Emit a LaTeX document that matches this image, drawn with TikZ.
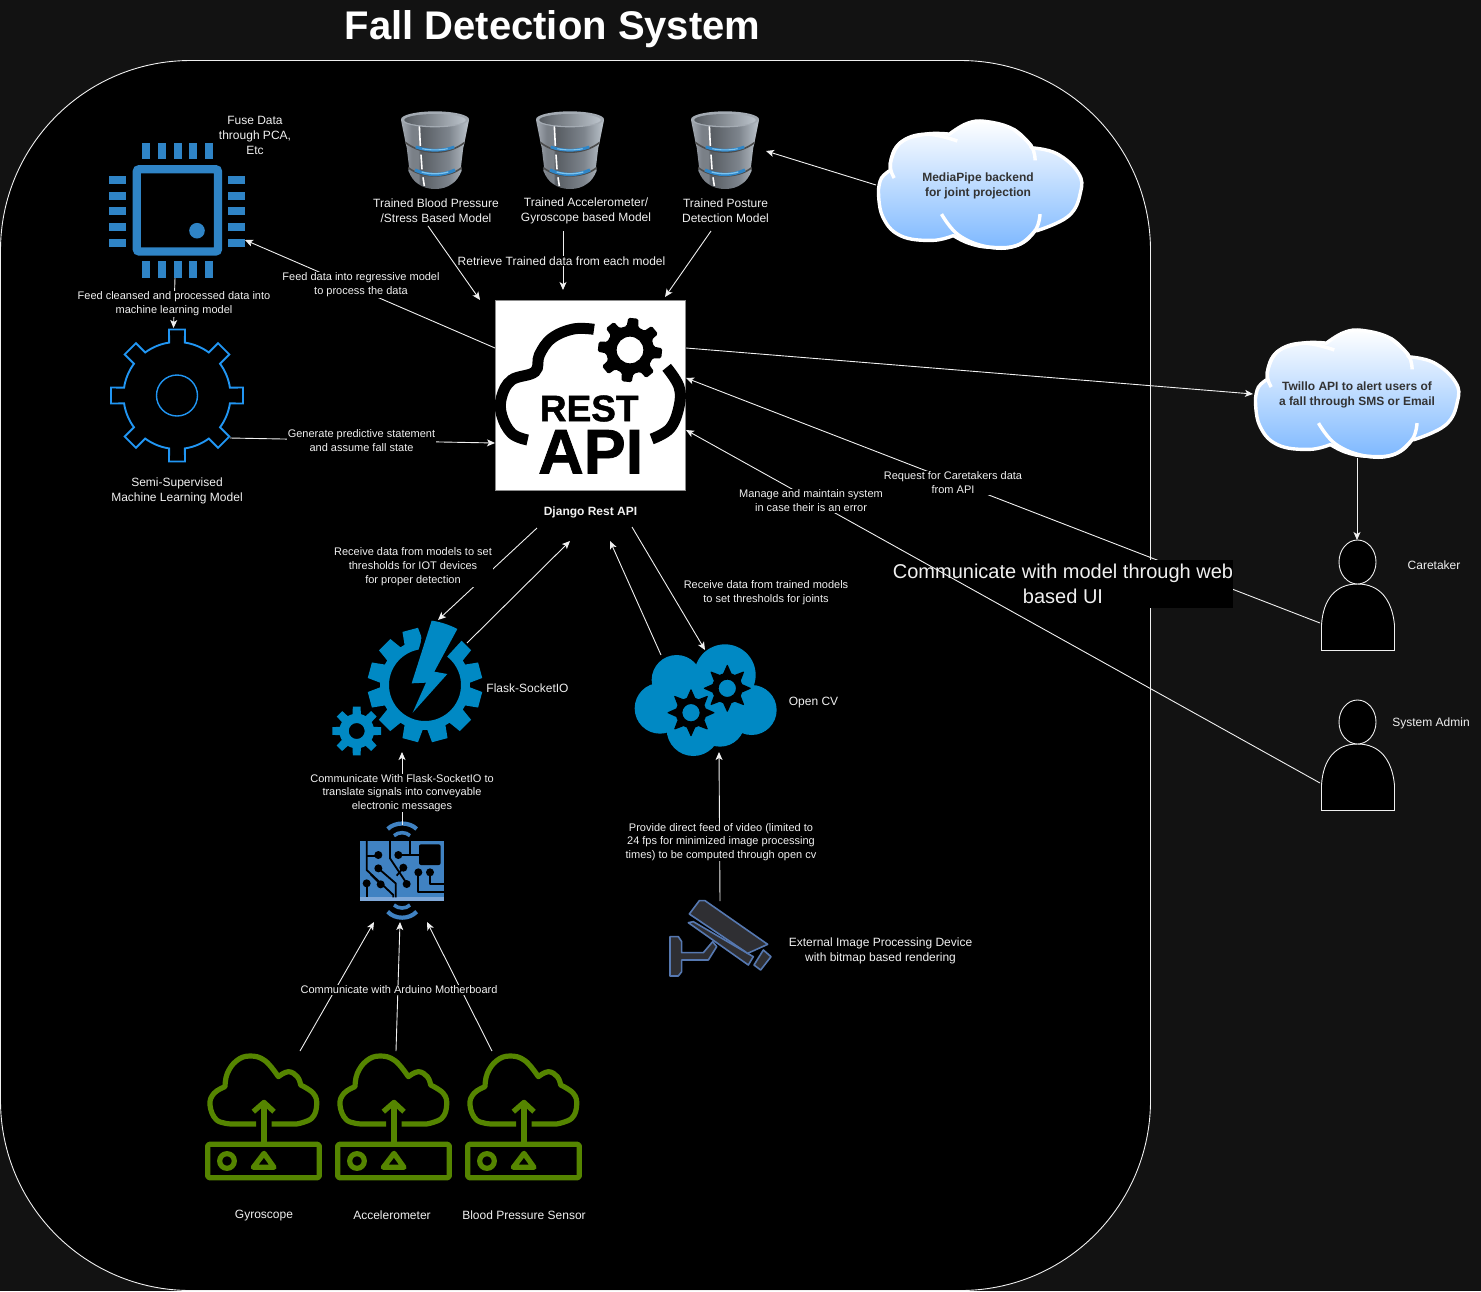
\documentclass[tikz,border=0pt]{standalone}
\usepackage{fontspec}
\setmainfont{Liberation Sans}
\newfontfamily\heavyf[BoldFeatures={FakeBold=1.2}]{Liberation Sans}
\usetikzlibrary{arrows.meta}
\definecolor{pagebg}{HTML}{121212}
\definecolor{ink}{HTML}{F0F0F0}
\definecolor{chipblue}{HTML}{2F84C6}
\definecolor{gearblue}{HTML}{2196F3}
\definecolor{azure}{HTML}{0089C4}
\definecolor{boardblue}{HTML}{4082C2}
\definecolor{boardlight}{HTML}{7FA8D8}
\definecolor{sensorgreen}{HTML}{558500}
\definecolor{cloudblue}{HTML}{7DB8FF}
\definecolor{camedge}{HTML}{5678B0}
\definecolor{camfill}{HTML}{2F2F33}
\definecolor{bandblue}{HTML}{2F86C8}
\definecolor{bandglow}{HTML}{7CC4F0}
\definecolor{steelA}{HTML}{A4ABB3}
\definecolor{steelB}{HTML}{7A8087}
\definecolor{steelC}{HTML}{565B61}
\definecolor{steelD}{HTML}{7D848C}
\definecolor{steelE}{HTML}{BCC4CC}
\pgfdeclarehorizontalshading{barrelbody}{100bp}{color(0bp)=(steelA);color(25bp)=(steelA);color(33bp)=(steelB);color(38bp)=(steelB);color(39bp)=(steelC);color(60bp)=(steelD);color(75bp)=(steelE);color(100bp)=(steelE)}
\tikzset{
  conn/.style={draw=ink,line width=.9pt,-{Stealth[length=8pt,width=7pt,inset=2pt]}},
  lab/.style={text=ink,align=center,inner sep=1pt,fill=black,font=\fontsize{11}{14}\selectfont},
  txt/.style={text=ink,align=center,inner sep=0pt,font=\fontsize{12}{15}\selectfont},
  cloudtxt/.style={text=black!80,align=center,inner sep=0pt,font=\bfseries\fontsize{12}{15}\selectfont},
  zoomed/.style={x=.33333pt,y=-.33333pt},
  zoomup/.style={x=.33333pt,y=.33333pt},
}
% gear: style, teeth, root, outer, base half angle, top half angle, rotation, hole
\newcommand\gearfill[8]{%
  \fill[#1,even odd rule] (#7-#5:#3)
    \foreach \k [evaluate=\k as \a using (\k-1)*360/#2+#7] in {1,...,#2} {
      -- (\a-#6:#4) -- (\a+#6:#4) -- (\a+#5:#3) -- (\a+180/#2:#3) -- (\a+360/#2-#5:#3)
    } -- cycle (0,0) circle[radius=#8];}
\newcommand\barrelicon[1]{%
\begin{scope}[shift={(#1,100)},zoomed]
  \path[shading=barrelbody] (-102,60) -- (-90,120) -- (-87,135) -- (-85,142) -- (-78,200) -- (-80,212)
     .. controls (-72,232) and (-62,245) .. (-50,252) .. controls (-25,272) and (25,272) .. (50,252)
     .. controls (62,245) and (72,232) .. (80,212) -- (78,200) -- (85,142) -- (87,135) -- (90,120) -- (102,60) -- cycle;
  \draw[black!70,line width=1.6pt] (-88,128) .. controls (-40,166) and (40,166) .. (88,128);
  \draw[black!70,line width=1.6pt] (-80,203) .. controls (-40,236) and (40,236) .. (80,203);
  \draw[bandblue,line width=2.8pt] (-58,141) .. controls (-20,154) and (20,154) .. (58,141);
  \draw[bandglow,line width=1.1pt] (-38,146) .. controls (-15,151) and (15,151) .. (38,146);
  \draw[bandblue,line width=3.2pt] (-60,210) .. controls (-20,228) and (20,228) .. (60,210);
  \draw[bandglow,line width=1.3pt] (-40,216) .. controls (-15,223) and (15,223) .. (40,216);
  \draw[white,line width=1.6pt] (-47,78) -- (-44,138);
  \draw[white,line width=1.6pt] (-42,164) -- (-39,208);
  \draw[white,line width=1.6pt] (-36,232) -- (-32,258);
  \fill[steelA] (0,58) ellipse[x radius=102,y radius=24];
  \path[left color=steelC,right color=steelE] (0,60) ellipse[x radius=92,y radius=18];
\end{scope}}
\newcommand\cloudicon[2]{%
\begin{scope}[shift={(#1,#2)},xscale=.985,yscale=.975,shift={(1.5,1.5)}]
  \path[top color=white,bottom color=cloudblue,draw=white,line width=3.4pt,line join=round]
    plot[smooth,tension=.7] coordinates {(0,70)(3,58)(12,50)}
    -- plot[smooth,tension=.7] coordinates {(12,43)(22,22)(48,13)(72,13)}
    -- plot[smooth,tension=.7] coordinates {(72,13)(90,2)(109,0)(137,8)(155,25)}
    -- plot[smooth,tension=.7] coordinates {(155,27)(181,33)(203,53)(205,73)(193,97)(161,112)}
    -- plot[smooth,tension=.7] coordinates {(159,112)(141,127)(113,129)(92,125)(76,117)}
    -- plot[smooth,tension=.7] coordinates {(76,117)(54,122)(22,117)(4,97)(0,70)} -- cycle;
  \draw[white,line width=3.4pt] plot[smooth,tension=.7] coordinates {(16,58)(12,43)(22,22)(48,13)(80,20)};
  \draw[white,line width=3.4pt] plot[smooth,tension=.7] coordinates {(137,8)(155,25)(159,40)};
  \draw[white,line width=3.4pt] plot[smooth,tension=.7] coordinates {(64,95)(82,117)(113,129)(141,127)(159,112)(164,95)};
\end{scope}}
\newcommand\sensoricon[1]{%
\begin{scope}[shift={(#1,1040)},zoomed,draw=sensorgreen,line width=5.2pt,line join=round]
  \draw (198,252) -- (125,252) -- plot[smooth,tension=.7] coordinates {(125,252)(80,240)(60,195)(72,160)(105,140)}
    -- plot[smooth,tension=.7] coordinates {(105,140)(112,100)(140,62)(180,48)(225,62)(265,110)}
    -- plot[smooth,tension=.7] coordinates {(265,110)(295,95)(322,110)(332,135)}
    -- plot[smooth,tension=.7] coordinates {(332,135)(370,160)(380,195)(365,235)(320,252)} -- (245,252);
  \draw (222,310) -- (222,187);
  \draw[miter limit=4] (190,215) -- (222,187) -- (252,215);
  \draw[rounded corners=1.5pt] (53,313) rectangle (388,413);
  \draw (111,363) circle[radius=22];
  \draw (190,382) -- (222,340) -- (252,382) -- cycle;
\end{scope}}
\newcommand\personicon[1]{%
\begin{scope}[shift={(0,#1)}]
  \draw[draw=ink,fill=black,line width=.9pt] (1321.5,650.5) -- (1321.5,625) .. controls (1323,600) and (1335,584) .. (1357.5,584)
    .. controls (1380,584) and (1392,600) .. (1394.5,625) -- (1394.5,650.5) -- cycle;
  \draw[draw=ink,fill=black,line width=.9pt] (1357.5,562) ellipse[x radius=18.5,y radius=22];
\end{scope}}
\begin{document}
\begin{tikzpicture}[x=1pt,y=-1pt]
\useasboundingbox (0,0) rectangle (1481,1291);
\fill[pagebg] (0,0) rectangle (1481,1291);
\node[text=white,inner sep=0pt,font=\bfseries\fontsize{40}{42}\selectfont] (title) at (552.5,29) {Fall Detection System};
\path[fill=black,draw=ink,line width=.9pt,rounded corners=190pt] (0.5,60.5) rectangle (1150.5,1290.5);

% ---------- chip
\begin{scope}
  \draw[chipblue,line width=8.3pt,rounded corners=2.5pt] (136.8,169.2) rectangle (218,251.5);
  \fill[chipblue] (197,230.7) circle[radius=7.8];
  \foreach \p in {142.3,158.3,173.7,189,205} {
    \fill[chipblue] (\p,143) rectangle ++(8,16.3);
    \fill[chipblue] (\p,261.3) rectangle ++(8,16.4);
  }
  \foreach \p in {176,192,207.3,222.7,239} {
    \fill[chipblue] (109.3,\p) rectangle ++(16.7,8);
    \fill[chipblue] (228,\p) rectangle ++(16.7,8);
  }
\end{scope}

% ---------- ML gear
\begin{scope}[shift={(177,395.5)},y=1pt]
  \draw[gearblue,line width=1.9pt,miter limit=4] (8.5:53.5)
    \foreach \a in {0,45,...,315} {
      arc[start angle=\a+8.5,end angle=\a+36.5,radius=53.5]
      -- (\a+45-6.9:66.5) -- (\a+45+6.9:66.5) -- (\a+45+8.5:53.5)
    } -- cycle;
  \draw[gearblue,line width=1.4pt] (0,0) circle[radius=20.5];
\end{scope}

% ---------- barrels
\barrelicon{435}
\barrelicon{570}
\barrelicon{725}

% ---------- clouds
\cloudicon{877}{120}
\cloudicon{1254}{329}

% ---------- REST API
\node[draw=black!45,fill=white,line width=.9pt,minimum size=190pt,inner sep=0pt] (rest) at (590.5,395.5) {};
\begin{scope}[shift={(480,290)},zoomed]
  \draw[black,line width=11pt] plot[smooth,tension=.65] coordinates {(143,450)(95,430)(65,375)(65,320)(95,270)(165,245)(178,195)(215,145)(280,117)(342,118)};
  \draw[black,line width=11pt] plot[smooth,tension=.65] coordinates {(560,232)(597,290)(597,350)(570,415)(515,447)};
\end{scope}
\begin{scope}[shift={(630,350)},zoomup]
  \gearfill{black,rounded corners=1.5pt}{8}{72}{97}{14}{9}{84}{40}
\end{scope}
\node[inner sep=0pt,text=black,font=\heavyf\bfseries] (restword) at (589.2,408.5) {\fontsize{37}{38}\selectfont REST};
\node[inner sep=0pt,text=black,font=\heavyf\bfseries] (apiword) at (590.7,451.7) {\fontsize{63}{63}\selectfont API};

% ---------- Flask
\begin{scope}[shift={(425,685)},zoomup]
  \gearfill{azure}{12}{135}{173}{12}{8}{15}{108}
\end{scope}
\begin{scope}[shift={(320,600)},zoomed]
  \fill[black] (315,255) -- (296,150) -- (303,125) -- (310,50) -- (420,50) -- (428,118) -- (385,165) -- cycle;
  \fill[azure] (335,62) .. controls (360,65) and (390,75) .. (412,87) -- (343,215) -- (382,222) -- (278,338) -- (318,248) -- (275,250) -- cycle;
\end{scope}
\begin{scope}[shift={(356.7,731)},zoomup]
  \gearfill{azure}{8}{52}{74}{14}{9}{0}{24}
\end{scope}

% ---------- OpenCV cloud
\begin{scope}[shift={(320,600)},zoomed]
  \fill[azure] (1070,240) circle[radius=75] (1215,225) circle[radius=92] (1020,325) circle[radius=76]
    (1295,330) circle[radius=75] (1120,388) circle[radius=80] (1200,365) circle[radius=75] (1150,320) circle[radius=100];
\end{scope}
\begin{scope}[shift={(727.3,688.3)},zoomup]
  \gearfill{black}{8}{46}{70}{16}{1}{0}{26}
\end{scope}
\begin{scope}[shift={(691,712.7)},zoomup]
  \gearfill{black}{8}{46}{70}{16}{1}{0}{26}
\end{scope}

% ---------- board
\begin{scope}[shift={(350,815)},zoomed]
  \fill[boardblue] (30,78) rectangle (282,247);
  \fill[boardlight] (30,247) rectangle (282,258);
  \fill[black,rounded corners=2pt] (207,88) rectangle (272,150);
  \begin{scope}[black,line width=1.8pt,line join=round]
    \draw (50,78) -- (50,165) -- (130,240) -- (130,247);
    \draw (50,122) -- (85,122);
    \draw (85,160) -- (137,205) -- (137,247);
    \draw (50,205) -- (50,247);
    \draw (92,208) -- (62,178);
    \draw (120,78) -- (120,130) -- (170,205);
    \draw (145,120) -- (207,120);
    \draw (180,78) -- (180,120);
    \draw (160,158) -- (140,182);
    \draw (205,172) -- (205,232) -- (282,232);
    \draw (240,172) -- (240,208) -- (282,208);
  \end{scope}
  \fill[black] (85,120) circle[radius=12] (85,160) circle[radius=12] (50,205) circle[radius=12]
    (92,208) circle[radius=12] (145,120) circle[radius=12] (160,158) circle[radius=12]
    (170,207) circle[radius=12] (205,172) circle[radius=12] (240,172) circle[radius=12];
  \draw[boardblue,line width=4.2pt] (113,42) .. controls (135,20) and (178,20) .. (200,42);
  \draw[boardblue,line width=3.6pt] (132,62) .. controls (145,50) and (168,50) .. (180,62);
  \draw[boardblue,line width=4.2pt] (113,290) .. controls (135,314) and (178,314) .. (200,290);
  \draw[boardblue,line width=3.6pt] (132,270) .. controls (145,282) and (168,282) .. (180,270);
\end{scope}

% ---------- camera
\begin{scope}[shift={(320,600)},zoomed,draw=camedge,fill=camfill,line width=1.6pt,line join=round]
  \filldraw (1050,1010) -- (1075,1010) -- (1085,1025) -- (1085,1058) -- (1150,1058) -- (1178,1025) -- (1190,1040) -- (1165,1080) -- (1085,1080) -- (1085,1115) -- (1075,1128) -- (1050,1128) -- cycle;
  \filldraw (1105,968) -- (1120,965) -- (1300,1070) -- (1285,1095) -- cycle;
  \filldraw (1330,1050) -- (1353,1070) -- (1322,1110) -- (1302,1095) -- cycle;
  \filldraw (1108,942) -- (1138,902) -- (1155,902) -- (1343,1033) -- (1283,1060) -- cycle;
\end{scope}

% ---------- sensors
\sensoricon{190}
\sensoricon{320}
\sensoricon{450}

% ---------- people
\personicon{0}
\personicon{160}

% ---------- connector ends
\coordinate (bpS) at (428,226);      \coordinate (restNa) at (480,300);
\coordinate (acS) at (563,231);      \coordinate (restNb) at (563,290);
\coordinate (poS) at (711,231);      \coordinate (restNc) at (665,297);
\coordinate (mpW) at (876,185);      \coordinate (poE) at (766,151);
\coordinate (restWa) at (495,348);   \coordinate (chipE) at (245,240);
\coordinate (gearE) at (230,438);    \coordinate (restWb) at (495,443);
\coordinate (chipS) at (175,278);    \coordinate (gearN) at (173.5,328);
\coordinate (restEa) at (686,348);   \coordinate (twW) at (1253,394);
\coordinate (twS) at (1357,458);     \coordinate (careN) at (1357,540);
\coordinate (careW) at (1320,623);   \coordinate (restEb) at (686,378);
\coordinate (adminW) at (1320,783);  \coordinate (restEc) at (686,430);
\coordinate (djA) at (537,528);      \coordinate (flN) at (438,620);
\coordinate (flE) at (467,643);      \coordinate (djB) at (570,541);
\coordinate (cvW) at (661,655);      \coordinate (djC) at (610,541);
\coordinate (djD) at (632,527);      \coordinate (cvN) at (705,650);
\coordinate (bdN) at (402,825);      \coordinate (flS) at (402,752);
\coordinate (camN) at (720,901);     \coordinate (cvS) at (719,752);
\coordinate (seA) at (300,1051);     \coordinate (bdA) at (374,922);
\coordinate (seB) at (396,1051);     \coordinate (bdB) at (400,922);
\coordinate (seC) at (492,1051);     \coordinate (bdC) at (427,922);

% ---------- connectors
\draw[conn] (bpS) -- (restNa);
\draw[conn] (acS) -- (restNb);
\draw[conn] (poS) -- (restNc);
\draw[conn] (mpW) -- (poE);
\draw[conn] (restWa) -- (chipE);
\draw[conn] (gearE) -- (restWb);
\draw[conn] (chipS) -- (gearN);
\draw[conn] (restEa) -- (twW);
\draw[conn] (twS) -- (careN);
\draw[conn] (careW) -- (restEb);
\draw[conn] (djA) -- (flN);
\draw[conn] (flE) -- (djB);
\draw[conn] (cvW) -- (djC);
\draw[conn] (djD) -- (cvN);
\draw[conn] (bdN) -- (flS);
\draw[conn] (camN) -- (cvS);
\draw[conn] (seA) -- (bdA);
\draw[conn] (seB) -- (bdB);
\draw[conn] (seC) -- (bdC);

% ---------- box over the caretaker line, under the admin line
\node[fill=black,text=ink,align=center,minimum width=340pt,minimum height=48pt,inner sep=0pt,font=\fontsize{20}{25}\selectfont] (webui) at (1063,583.5) {Communicate with model through web\\based UI};
\draw[conn] (adminW) -- (restEc);

% ---------- connector labels
\node[lab] (l1) at (174,304) {Feed cleansed and processed data into\\machine learning model};
\node[lab] (l2) at (361,285) {Feed data into regressive model\\to process the data};
\node[lab] (l3) at (361.5,441) {Generate predictive statement\\and assume fall state};
\node[lab,font=\fontsize{12}{14}\selectfont] (l4) at (561.5,261) {Retrieve Trained data from each model};
\node[lab] (l5) at (953,483) {Request for Caretakers data\\from API};
\node[lab] (l6) at (811,501) {Manage and maintain system\\in case their is an error};
\node[lab] (l7) at (413,567) {Receive data from models to set\\thresholds for IOT devices\\for proper detection};
\node[lab] (l8) at (766,593) {Receive data from trained models\\to set thresholds for joints};
\node[lab,font=\fontsize{11}{13.2}\selectfont] (l9) at (402,793) {Communicate With Flask-SocketIO to\\translate signals into conveyable\\electronic messages};
\node[lab,font=\fontsize{11}{13.2}\selectfont] (l10) at (721,842) {Provide direct feed of video (limited to\\24 fps for minimized image processing\\times) to be computed through open cv};
\node[lab] (l11) at (399,990) {Communicate with Arduino Motherboard};

% ---------- labels
\node[txt] (t1) at (255,135.5) {Fuse Data\\through PCA,\\Etc};
\node[txt] (t2) at (436,210.5) {Trained Blood Pressure\\/Stress Based Model};
\node[txt] (t3) at (586,210.5) {Trained Accelerometer/\\Gyroscope based Model};
\node[txt] (t4) at (725.5,210.5) {Trained Posture\\Detection Model};
\node[txt] (t5) at (177,491) {Semi-Supervised\\Machine Learning Model};
\node[txt,font=\bfseries\fontsize{12}{15}\selectfont] (t6) at (590.5,512) {Django Rest API};
\node[txt] (t7) at (527.5,688.5) {Flask-SocketIO};
\node[txt] (t8) at (813.5,703) {Open CV};
\node[txt] (t9) at (880.5,951) {External Image Processing Device\\with bitmap based rendering};
\node[txt] (t10) at (264,1215.5) {Gyroscope};
\node[txt] (t11) at (392,1215.5) {Accelerometer};
\node[txt] (t12) at (524,1215.5) {Blood Pressure Sensor};
\node[txt] (t13) at (1434,565.5) {Caretaker};
\node[txt] (t14) at (1431,723.5) {System Admin};
\node[cloudtxt] (t15) at (978,186) {MediaPipe backend\\for joint projection};
\node[cloudtxt] (t16) at (1357,395) {Twillo API to alert users of\\a fall through SMS or Email};
\end{tikzpicture}
\end{document}
